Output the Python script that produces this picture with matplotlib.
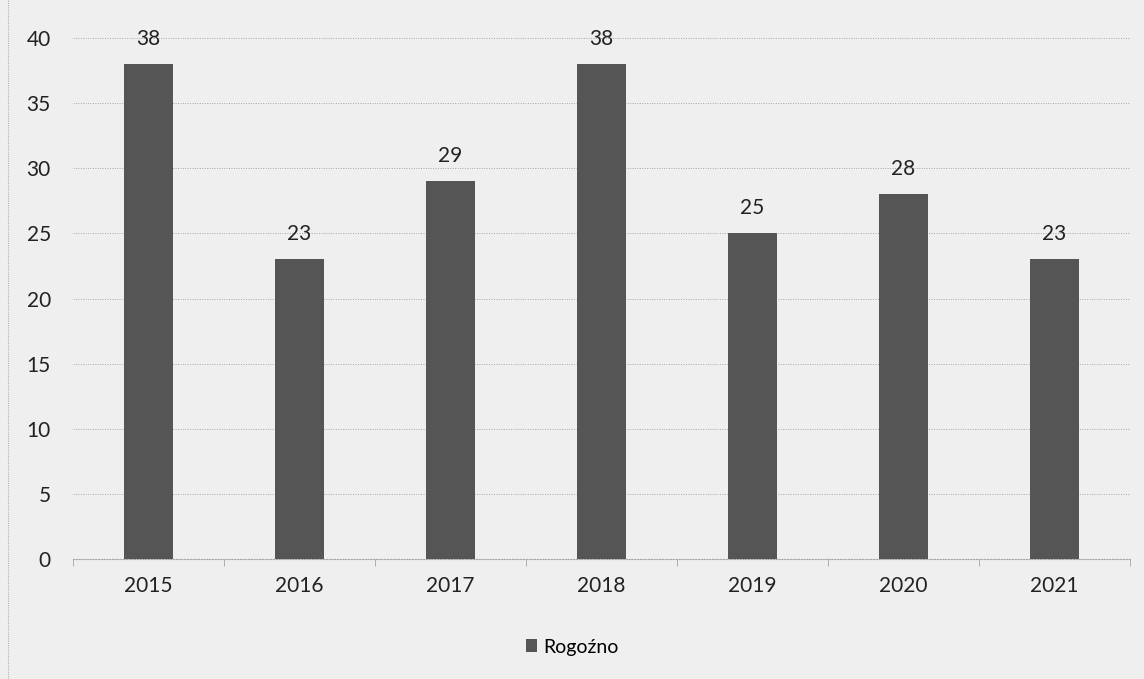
import matplotlib
matplotlib.use("Agg")
import matplotlib.pyplot as plt

years = ["2015", "2016", "2017", "2018", "2019", "2020", "2021"]
values = [38, 23, 29, 38, 25, 28, 23]
series_name = "Rogoźno"

plt.rcParams["font.family"] = ["Lato", "DejaVu Sans"]

bg = "#efefef"
bar_color = "#555555"

fig = plt.figure(figsize=(11.44, 6.79), dpi=100, facecolor=bg)
ax = fig.add_axes([0.0638, 0.1767, 0.9240, 0.7673], facecolor=bg)

x = list(range(len(years)))
bars = ax.bar(x, values, width=0.32, color=bar_color, label=series_name, zorder=3)

for xi, v in zip(x, values):
    ax.annotate(str(v), (xi, v), xytext=(0, 11), textcoords="offset points",
                ha="center", va="bottom", fontsize=15, color="#222222")

ax.set_xlim(-0.5, len(years) - 0.5)
ax.set_ylim(0, 40)
ax.set_yticks(range(0, 41, 5))
ax.yaxis.grid(True, linestyle=(0, (1, 1.5)), color="#a5a5a5", linewidth=0.7, zorder=0)
ax.set_xticks(x)
ax.set_xticklabels(years)
ax.set_xticks([i - 0.5 for i in range(len(years) + 1)], minor=True)
ax.tick_params(axis="x", which="major", length=0, pad=12, labelsize=15, colors="#222222")
ax.tick_params(axis="x", which="minor", length=5, color="#a5a5a5")
ax.tick_params(axis="y", length=0, pad=16, labelsize=15, colors="#222222")

for s in ["top", "right", "left"]:
    ax.spines[s].set_visible(False)
ax.spines["bottom"].set_color("#a5a5a5")
ax.spines["bottom"].set_linestyle((0, (1, 1.5)))

leg = fig.legend(handles=[bars], labels=[series_name], loc="center",
                 bbox_to_anchor=(0.5, 1 - 647 / 679), frameon=False,
                 fontsize=14, handlelength=0.6, handleheight=0.6, handletextpad=0.3)

# scan border on the left
fig.add_artist(plt.Line2D([8 / 1144, 8 / 1144], [0, 1], color="#b0b0b0",
                          linestyle=(0, (1, 1)), linewidth=0.8))

fig.savefig("out.png", dpi=100, facecolor=bg)
